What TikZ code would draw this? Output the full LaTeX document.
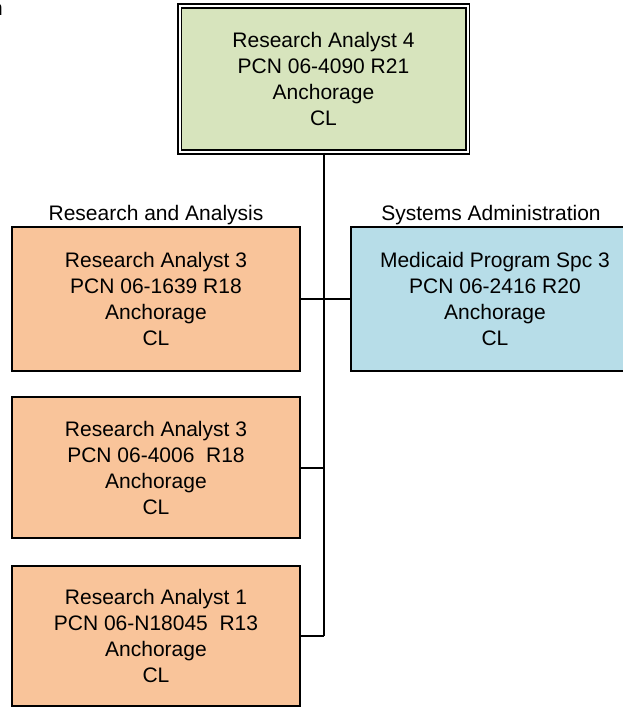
\documentclass[tikz,border=0pt]{standalone}
\usepackage{fontspec}
\setmainfont{Liberation Sans}
\definecolor{boxgreen}{HTML}{D7E4BD}
\definecolor{boxorange}{HTML}{F9C49A}
\definecolor{boxblue}{HTML}{B7DDE8}
\tikzset{
  posbox/.style={draw=black, line width=2pt, align=center, inner sep=0pt,
    minimum width=288pt, font=\fontsize{21}{26}\selectfont},
  headbox/.style={posbox, fill=boxgreen, double=white, double distance=2pt, line width=1.8pt},
  staffbox/.style={posbox, fill=boxorange},
  sysbox/.style={posbox, fill=boxblue},
  grouplabel/.style={inner sep=0pt, anchor=base, font=\fontsize{21}{26}\selectfont},
  link/.style={draw=black, line width=2pt}
}
\begin{document}
\begin{tikzpicture}[x=1pt,y=-1pt]
\useasboundingbox (0,0) rectangle (622,707);
\node[grouplabel, anchor=base east] (frag) at (3,15) {n};
\node[headbox, minimum height=146pt] (top) at (323.5,79)
  {Research Analyst 4\\PCN 06-4090 R21\\Anchorage\\CL};
\node[grouplabel] (lab1) at (156,220.5) {Research and Analysis};
\node[grouplabel] (lab2) at (491,220.5) {Systems Administration};
\node[staffbox, minimum height=144pt] (r1) at (156,299)
  {Research Analyst 3\\PCN 06-1639 R18\\Anchorage\\CL};
\node[staffbox, minimum height=141pt] (r2) at (156,467.5)
  {Research Analyst 3\\PCN 06-4006\ \ R18\\Anchorage\\CL};
\node[staffbox, minimum height=140pt] (r3) at (156,636)
  {Research Analyst 1\\PCN 06-N18045\ \ R13\\Anchorage\\CL};
\node[sysbox, minimum height=144pt] (sa) at (495,299)
  {Medicaid Program Spc 3\\PCN 06-2416 R20\\Anchorage\\CL};
\coordinate (bot) at (top.south |- r3.east);
\draw[link] (top.south) -- (bot);
\draw[link] (r1.east) -- (sa.west);
\draw[link] (r2.east) -- (r2.east -| top.south);
\draw[link] (r3.east) -- (bot);
\end{tikzpicture}
\end{document}
